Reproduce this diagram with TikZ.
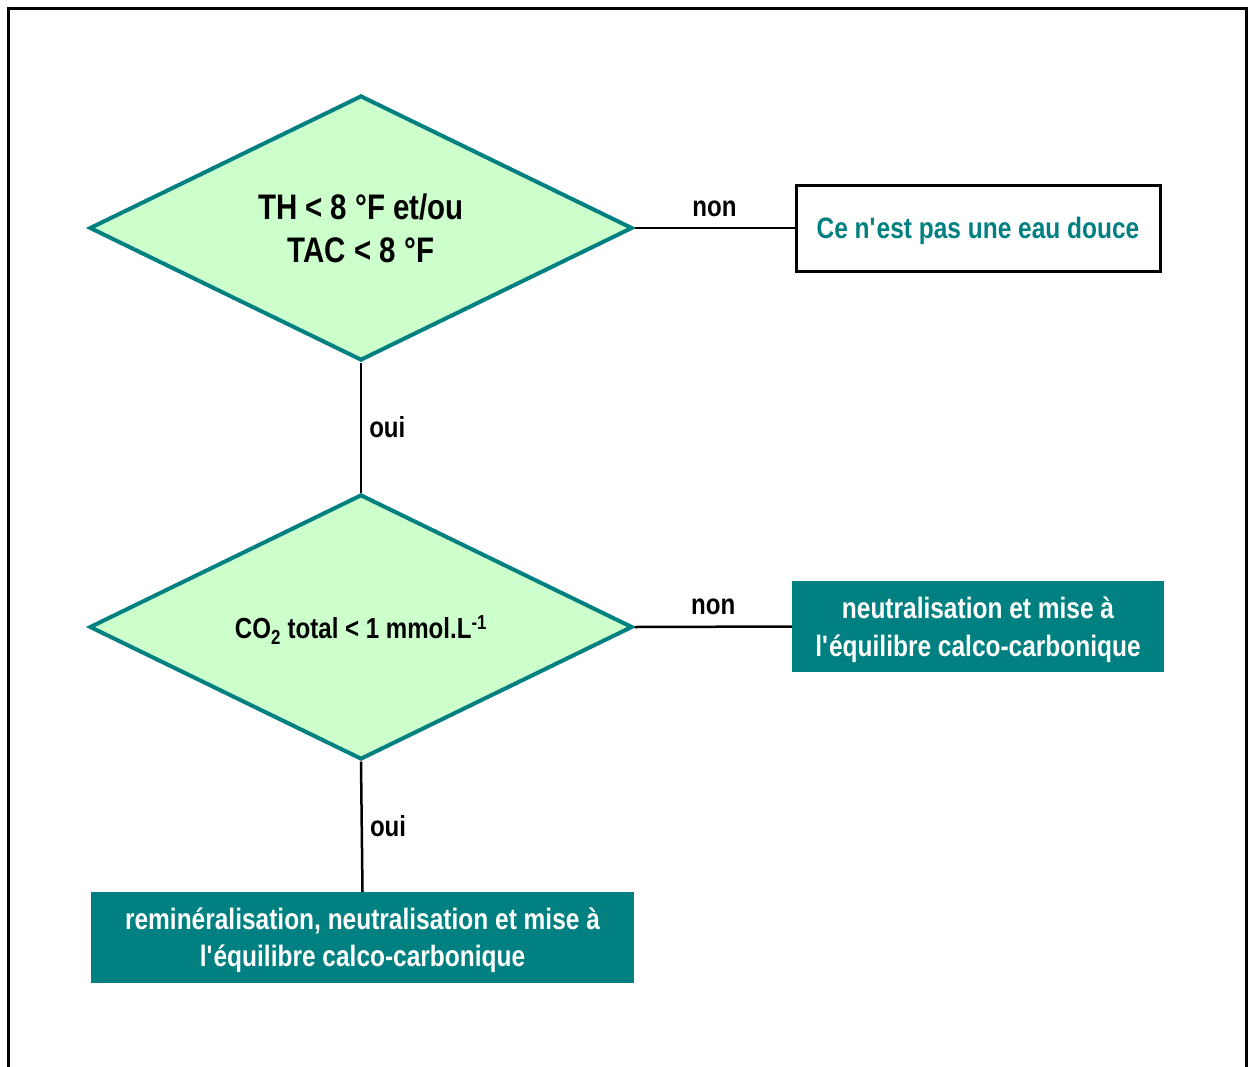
\documentclass[tikz,border=0pt]{standalone}
\usepackage{fontspec}
\setmainfont{Liberation Sans Bold}[FakeStretch=0.83]
\usetikzlibrary{shapes.geometric}
\definecolor{tealc}{HTML}{008080}
\definecolor{mint}{HTML}{CCFFCC}
\newcommand{\lowr}[1]{\raisebox{-3pt}[\height][\depth]{#1}}
\tikzset{
  decision/.style={diamond, draw=tealc, line width=4pt, fill=mint, inner sep=0pt,
    minimum width=543pt, minimum height=265pt, aspect=2.05, align=center},
  whitebox/.style={rectangle, draw=black, line width=3pt, fill=white, text=tealc,
    minimum width=364pt, minimum height=86pt, inner sep=0pt, align=center},
  tealbox/.style={rectangle, fill=tealc, text=white, inner sep=0pt, align=center},
  conn/.style={draw=black, line width=2.5pt},
  lab/.style={font=\fontsize{29}{34}\selectfont, text=black, inner sep=0pt}
}
\begin{document}
\begin{tikzpicture}[x=1pt,y=-1pt]
\useasboundingbox (0,0) rectangle (1248,1066);
\fill[white] (0,0) rectangle (1248,1066);
\draw[line width=3pt] (8,1068) -- (8,8) -- (1246,8) -- (1246,1068);

\node[decision, font=\fontsize{35.5}{43}\selectfont] (d1) at (361,228) {TH < 8 °F et/ou\\TAC < 8 °F};
\node[decision, font=\fontsize{29}{36}\selectfont] (d2) at (361,627) {\lowr{CO\textsubscript{2} total < 1 mmol.L\textsuperscript{-1}}};

\node[whitebox, font=\fontsize{29.5}{38}\selectfont] (b1) at (978,228) {\lowr{Ce n\textquotesingle est pas une eau douce}};
\node[tealbox, minimum width=372pt, minimum height=91pt, font=\fontsize{29.5}{38}\selectfont] (b2) at (978,626.5) {\lowr{neutralisation et mise à}\\\lowr{l\textquotesingle équilibre calco-carbonique}};
\node[tealbox, minimum width=543pt, minimum height=91pt, font=\fontsize{29.5}{37}\selectfont] (b3) at (362.5,937.5) {\lowr{reminéralisation, neutralisation et mise à}\\\lowr{l\textquotesingle équilibre calco-carbonique}};

\draw[conn] (d1.east) -- node[lab, midway, anchor=base, yshift=12pt] (n1) {non} (b1.west);
\draw[conn] (d1.south) -- node[lab, midway, anchor=base west, xshift=7pt, yshift=-10pt] (o1) {oui} (d2.north);
\draw[conn] (d2.east) -- node[lab, midway, anchor=base, yshift=12pt] (n2) {non} (b2.west);
\draw[conn] (d2.south) -- node[lab, midway, anchor=base west, xshift=7pt, yshift=-10pt] (o2) {oui} (b3.north);
\end{tikzpicture}
\end{document}
